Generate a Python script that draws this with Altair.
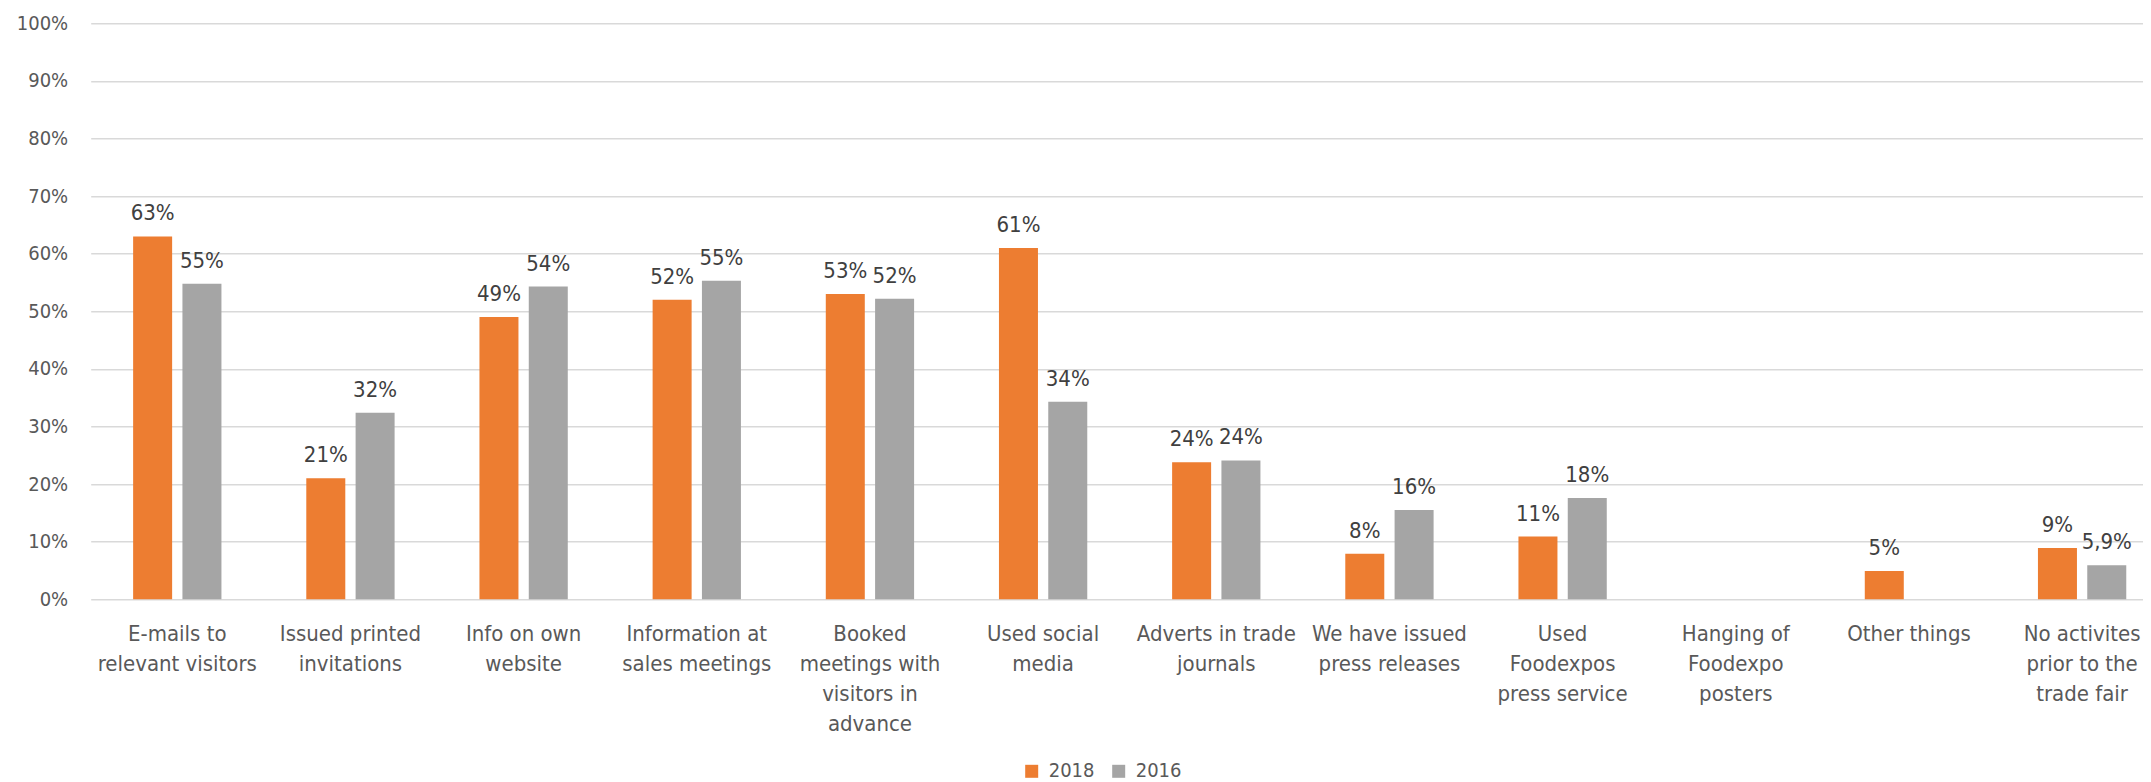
import altair as alt
import pandas as pd

categories = [
    ["E-mails to", "relevant visitors"],
    ["Issued printed", "invitations"],
    ["Info on own", "website"],
    ["Information at", "sales meetings"],
    ["Booked", "meetings with", "visitors in", "advance"],
    ["Used social", "media"],
    ["Adverts in trade", "journals"],
    ["We have issued", "press releases"],
    ["Used", "Foodexpos", "press service"],
    ["Hanging of", "Foodexpo", "posters"],
    ["Other things"],
    ["No activites", "prior to the", "trade fair"],
]
years = ["2018", "2016"]
values_2018 = [0.63, 0.21, 0.49, 0.52, 0.53, 0.61, 0.238, 0.079, 0.109, None, 0.049, 0.089]
values_2016 = [0.548, 0.324, 0.543, 0.553, 0.522, 0.343, 0.241, 0.155, 0.176, None, None, 0.059]
labels_2018 = ["63%", "21%", "49%", "52%", "53%", "61%", "24%", "8%", "11%", None, "5%", "9%"]
labels_2016 = ["55%", "32%", "54%", "55%", "52%", "34%", "24%", "16%", "18%", None, None, "5,9%"]
colors = ["#ED7D31", "#A5A5A5"]
y_ticks = [i / 10 for i in range(11)]

cat_names = ["\n".join(c) for c in categories]
rows = []
for year, vals, labs in [("2018", values_2018, labels_2018), ("2016", values_2016, labels_2016)]:
    for cat, v, l in zip(cat_names, vals, labs):
        if v is not None:
            rows.append({"category": cat, "year": year, "value": v, "label": l})
df = pd.DataFrame(rows)

FONT = "DejaVu Sans Condensed, DejaVu Sans"

x_enc = alt.X(
    "category:N",
    sort=cat_names,
    scale=alt.Scale(domain=cat_names, range=[0, 2078], paddingInner=0.49, paddingOuter=0.245),
    axis=alt.Axis(
        title=None,
        labelAngle=0,
        labelExpr="split(datum.value, '\\n')",
        labelFont=FONT,
        labelFontSize=22,
        labelColor="#595959",
        labelLineHeight=30,
        labelPadding=24,
        labelLimit=0,
        ticks=False,
        domain=False,
        labelOverlap=False,
    ),
)
xoff_enc = alt.XOffset(
    "year:N",
    sort=years,
    scale=alt.Scale(domain=years, paddingInner=0.209, paddingOuter=0),
)
y_enc = alt.Y(
    "value:Q",
    scale=alt.Scale(domain=[0, 1], nice=False),
    axis=alt.Axis(
        title=None,
        values=y_ticks,
        format=".0%",
        labelFont=FONT,
        labelFontSize=20,
        labelColor="#595959",
        labelPadding=23,
        ticks=False,
        domain=False,
        grid=True,
        gridColor="#D9D9D9",
        gridWidth=1.6,
    ),
)
color_enc = alt.Color(
    "year:N",
    sort=years,
    scale=alt.Scale(domain=years, range=colors),
    legend=alt.Legend(
        title=None,
        orient="none",
        legendX=931,
        legendY=738,
        direction="horizontal",
        symbolType="square",
        symbolSize=169,
        symbolStrokeWidth=0,
        labelFont=FONT,
        labelFontSize=20,
        labelColor="#595959",
        labelOffset=7,
        columnPadding=14,
        padding=0,
    ),
)

bars = alt.Chart(df).mark_bar().encode(
    x=x_enc, xOffset=xoff_enc, y=y_enc, color=color_enc
)
texts = alt.Chart(df).mark_text(
    font=FONT, fontSize=22, color="#404040", baseline="alphabetic", dy=-16
).encode(
    x=alt.X("category:N", sort=cat_names),
    xOffset=alt.XOffset("year:N", sort=years),
    y="value:Q",
    text="label:N",
)

chart = (
    alt.layer(bars, texts)
    .properties(
        width=2052,
        height=576,
        autosize=alt.AutoSizeParams(type="none"),
        padding={"left": 82.7, "top": 15.3, "right": 0, "bottom": 182},
        background="white",
    )
    .configure_view(stroke=None)
)

chart.save("out.html", embed_options={"renderer": "svg", "actions": False})
